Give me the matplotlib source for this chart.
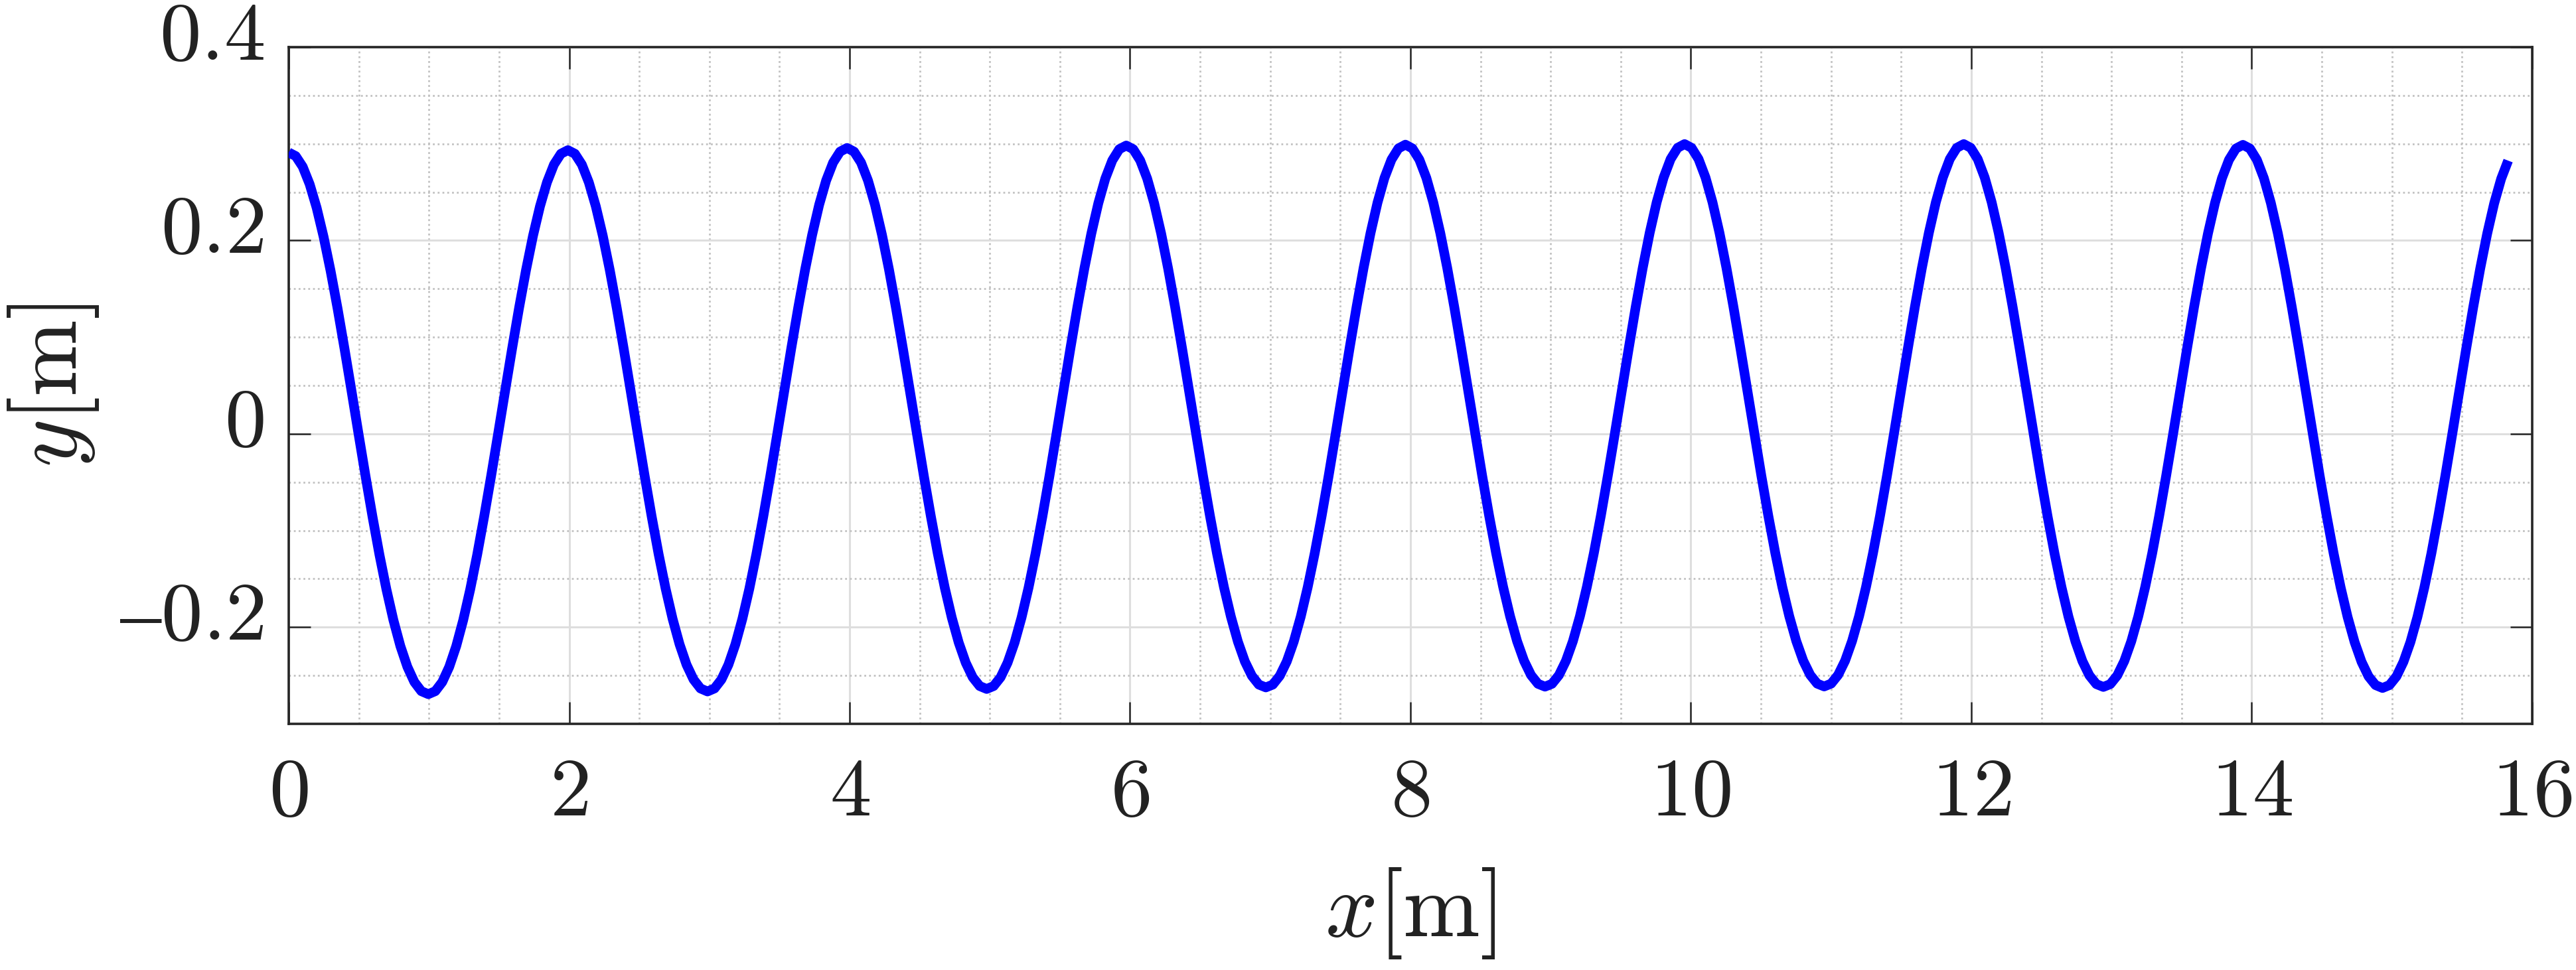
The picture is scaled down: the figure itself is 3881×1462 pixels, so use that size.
import numpy as np
import matplotlib
matplotlib.use("Agg")
import matplotlib.pyplot as plt
from matplotlib.ticker import FixedLocator, FuncFormatter
from matplotlib.transforms import ScaledTranslation

plt.rcParams['mathtext.fontset'] = 'cm'
plt.rcParams['font.family'] = ['DejaVu Serif']

# ---- data (surface elevation y [m] along x [m]) ----
x_step = 0.049775  # sampling interval of the profile [m]

y_crest0 = [0.2910, 0.2873, 0.2763, 0.2582, 0.2338, 0.2036, 0.1685, 0.1296, 0.0877, 0.0442, 0.0]
y_trough1 = [-0.0436, -0.0856, -0.1251, -0.1610, -0.1927, -0.2196, -0.2410, -0.2567, -0.2662, -0.2693,
             -0.2662, -0.2567, -0.2410, -0.2196, -0.1927, -0.1610, -0.1251, -0.0856, -0.0436, 0.0]
y_crest2 = [0.0442, 0.0879, 0.1301, 0.1694, 0.2048, 0.2353, 0.2601, 0.2785, 0.2897, 0.2934,
            0.2897, 0.2785, 0.2601, 0.2353, 0.2048, 0.1694, 0.1301, 0.0879, 0.0442, 0.0]
y_trough3 = [-0.0436, -0.0854, -0.1245, -0.1601, -0.1913, -0.2177, -0.2388, -0.2541, -0.2634, -0.2665,
             -0.2634, -0.2541, -0.2388, -0.2177, -0.1913, -0.1601, -0.1245, -0.0854, -0.0436, 0.0]
y_crest4 = [0.0443, 0.0882, 0.1305, 0.1702, 0.2059, 0.2369, 0.2620, 0.2806, 0.2919, 0.2957,
            0.2919, 0.2806, 0.2620, 0.2369, 0.2059, 0.1702, 0.1305, 0.0882, 0.0443, 0.0]
y_trough5 = [-0.0435, -0.0851, -0.1240, -0.1592, -0.1900, -0.2160, -0.2367, -0.2518, -0.2609, -0.2639,
             -0.2609, -0.2518, -0.2367, -0.2160, -0.1900, -0.1592, -0.1240, -0.0851, -0.0435, 0.0]
y_crest6 = [0.0443, 0.0884, 0.1311, 0.1710, 0.2072, 0.2385, 0.2640, 0.2828, 0.2944, 0.2982,
            0.2944, 0.2828, 0.2640, 0.2385, 0.2072, 0.1710, 0.1311, 0.0884, 0.0443, 0.0]
y_trough7 = [-0.0435, -0.0850, -0.1237, -0.1586, -0.1892, -0.2150, -0.2355, -0.2503, -0.2594, -0.2623,
             -0.2594, -0.2503, -0.2355, -0.2150, -0.1892, -0.1586, -0.1237, -0.0850, -0.0435, 0.0]
y_crest8 = [0.0444, 0.0885, 0.1312, 0.1713, 0.2076, 0.2391, 0.2647, 0.2836, 0.2952, 0.2991,
            0.2952, 0.2836, 0.2647, 0.2391, 0.2076, 0.1713, 0.1312, 0.0885, 0.0444, 0.0]
y_trough9 = [-0.0434, -0.0849, -0.1235, -0.1583, -0.1888, -0.2145, -0.2348, -0.2496, -0.2586, -0.2615,
             -0.2586, -0.2496, -0.2348, -0.2145, -0.1888, -0.1583, -0.1235, -0.0849, -0.0434, 0.0]
y_crest10 = [0.0444, 0.0885, 0.1314, 0.1715, 0.2079, 0.2395, 0.2651, 0.2842, 0.2958, 0.2997,
             0.2958, 0.2842, 0.2651, 0.2395, 0.2079, 0.1715, 0.1314, 0.0885, 0.0444, 0.0]
y_trough11 = [-0.0434, -0.0849, -0.1234, -0.1583, -0.1887, -0.2143, -0.2347, -0.2494, -0.2584, -0.2613,
              -0.2584, -0.2494, -0.2347, -0.2143, -0.1887, -0.1583, -0.1234, -0.0849, -0.0434, 0.0]
y_crest12 = [0.0444, 0.0885, 0.1314, 0.1715, 0.2079, 0.2395, 0.2651, 0.2842, 0.2958, 0.2997,
             0.2958, 0.2842, 0.2651, 0.2395, 0.2079, 0.1715, 0.1314, 0.0885, 0.0444, 0.0]
y_trough13 = [-0.0434, -0.0849, -0.1236, -0.1584, -0.1890, -0.2147, -0.2351, -0.2499, -0.2589, -0.2618,
              -0.2589, -0.2499, -0.2351, -0.2147, -0.1890, -0.1584, -0.1236, -0.0849, -0.0434, 0.0]
y_crest14 = [0.0444, 0.0885, 0.1312, 0.1713, 0.2075, 0.2389, 0.2645, 0.2834, 0.2951, 0.2989,
             0.2951, 0.2834, 0.2645, 0.2389, 0.2075, 0.1713, 0.1312, 0.0885, 0.0444, 0.0]
y_trough15 = [-0.0435, -0.0850, -0.1238, -0.1588, -0.1895, -0.2154, -0.2359, -0.2509, -0.2599, -0.2629,
              -0.2599, -0.2509, -0.2359, -0.2154, -0.1895, -0.1588, -0.1238, -0.0850, -0.0435, 0.0]
y_crest16 = [0.0443, 0.0884, 0.1310, 0.1710, 0.2071, 0.2384, 0.2638, 0.2826]

x_ticks = [0, 2, 4, 6, 8, 10, 12, 14, 16]
y_ticks = [-0.2, 0.0, 0.2, 0.4]
x_label = r'$x[\mathrm{m}]$'
y_label = r'$y[\mathrm{m}]$'

segments = [y_crest0, y_trough1, y_crest2, y_trough3, y_crest4, y_trough5, y_crest6,
            y_trough7, y_crest8, y_trough9, y_crest10, y_trough11, y_crest12,
            y_trough13, y_crest14, y_trough15, y_crest16]
y = np.concatenate([np.asarray(s, dtype=float) for s in segments])
x = np.arange(len(y)) * x_step

# ---- figure ----
W, H = 3881, 1462
fig = plt.figure(figsize=(W / 100, H / 100), dpi=100)
ax = fig.add_axes([435 / W, (H - 1091) / H, (3815 - 435) / W, (1091 - 71) / H])

ax.plot(x, y, color=(0, 0, 1), lw=10.5, solid_capstyle='butt', solid_joinstyle='round', zorder=3)

ax.set_xlim(0, 16)
ax.set_ylim(-0.3, 0.4)
ax.xaxis.set_major_locator(FixedLocator(x_ticks))
ax.yaxis.set_major_locator(FixedLocator(y_ticks))
ax.xaxis.set_minor_locator(FixedLocator(np.arange(0, 16.001, 0.5)))
ax.yaxis.set_minor_locator(FixedLocator(np.arange(-0.3, 0.4001, 0.05)))


def fmt(v, pos):
    if abs(v) < 1e-9:
        return r'$0$'
    s = ('%g' % abs(v))
    if v < 0:
        return '$\u2013' + s + '$'
    return '$' + s + '$'


ax.xaxis.set_major_formatter(FuncFormatter(fmt))
ax.yaxis.set_major_formatter(FuncFormatter(fmt))

ax.set_axisbelow(True)
ax.grid(which='major', color='#dedede', lw=2.2, ls='-')
ax.grid(which='minor', color='#c2c2c2', lw=2.0, ls=(0, (1, 1.6)))

dark = '#262626'
for sp in ax.spines.values():
    sp.set_linewidth(2.6)
    sp.set_color(dark)

ax.tick_params(which='major', direction='in', length=24, width=1.8, color=dark,
               top=True, right=True, labelsize=90, labelcolor='#222222')
ax.tick_params(axis='x', which='major', pad=31)
ax.tick_params(axis='y', which='major', pad=27)
ax.tick_params(which='minor', length=0, top=True, right=True)

ax.set_xlabel(x_label, fontsize=100, color='#222222', labelpad=36)
ax.set_ylabel(y_label, fontsize=100, color='#222222', labelpad=20)

# y tick labels sit slightly above their ticks, as in the reference
shift = ScaledTranslation(0, 16 / 100, fig.dpi_scale_trans)
for lab in ax.get_yticklabels():
    lab.set_verticalalignment('center')
    lab.set_transform(lab.get_transform() + shift)

fig.savefig('out.png', dpi=100)
